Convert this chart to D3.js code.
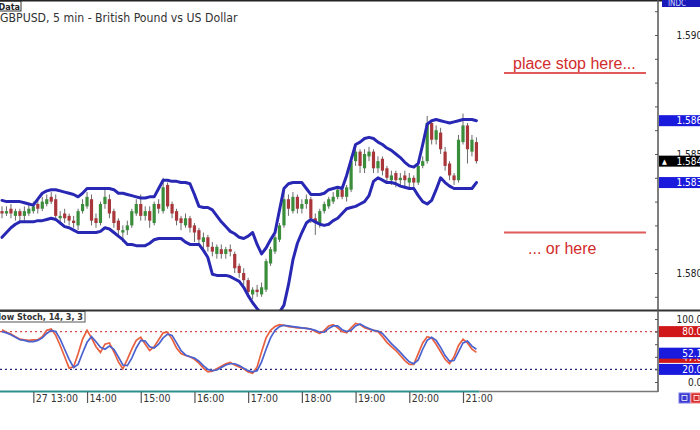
<!DOCTYPE html>
<html>
<head>
<meta charset="utf-8">
<script src="https://cdn.jsdelivr.net/npm/d3@7/dist/d3.min.js"></script>
<style>
  html, body { margin: 0; padding: 0; background: #fff; overflow: hidden; }
  svg { display: block; font-family: "DejaVu Sans Condensed", "DejaVu Sans", sans-serif; }
</style>
</head>
<body>
<svg id="chart" width="700" height="430"></svg>
<script>
// GBPUSD 5-minute candles, 12:25 .. 21:15
const opens = [
  1.5826,1.5825,1.5827,1.5824,1.5826,1.5824,1.5825,1.5826,1.5829,1.5827,
  1.5829,1.5832,1.5831,1.5823,1.5825,1.5824,1.5822,1.5820,1.5826,1.5828,
  1.5831,1.5823,1.5821,1.5829,1.5831,1.5826,1.5822,1.5817,1.5818,1.5820,
  1.5825,1.5829,1.5824,1.5826,1.5821,1.5829,1.5826,1.5837,1.5829,1.5826,
  1.5823,1.5820,1.5823,1.5820,1.5818,1.5813,1.5815,1.5811,1.5808,1.5810,
  1.5808,1.5810,1.5808,1.5803,1.5800,1.5797,1.5791,1.5793,1.5791,1.5793,
  1.5804,1.5809,1.5814,1.5820,1.5831,1.5826,1.5832,1.5827,1.5829,1.5831,
  1.5823,1.5821,1.5826,1.5828,1.5830,1.5832,1.5835,1.5832,1.5835,1.5847,
  1.5851,1.5844,1.5849,1.5851,1.5844,1.5848,1.5844,1.5839,1.5842,1.5839,
  1.5841,1.5838,1.5840,1.5838,1.5845,1.5847,1.5863,1.5856,1.5859,1.5851,
  1.5846,1.5841,1.5839,1.5855,1.5862,1.5851,1.5855
];
const highs = [
  1.5828,1.5828,1.5829,1.5827,1.5827,1.5828,1.5829,1.5830,1.5831,1.5832,
  1.5833,1.5834,1.5833,1.5826,1.5827,1.5825,1.5824,1.5827,1.5831,1.5834,
  1.5833,1.5825,1.5830,1.5835,1.5833,1.5827,1.5823,1.5820,1.5822,1.5827,
  1.5831,1.5833,1.5828,1.5828,1.5830,1.5831,1.5840,1.5838,1.5830,1.5827,
  1.5824,1.5825,1.5824,1.5821,1.5819,1.5817,1.5816,1.5813,1.5812,1.5812,
  1.5811,1.5812,1.5809,1.5804,1.5802,1.5798,1.5794,1.5795,1.5796,1.5806,
  1.5811,1.5816,1.5821,1.5834,1.5833,1.5834,1.5833,1.5831,1.5833,1.5832,
  1.5825,1.5827,1.5830,1.5832,1.5834,1.5836,1.5836,1.5837,1.5849,1.5854,
  1.5852,1.5852,1.5853,1.5852,1.5849,1.5849,1.5845,1.5843,1.5843,1.5842,
  1.5843,1.5842,1.5841,1.5846,1.5849,1.5866,1.5864,1.5862,1.5861,1.5853,
  1.5847,1.5842,1.5858,1.5867,1.5863,1.5858,1.5857
];
const lows = [
  1.5823,1.5824,1.5823,1.5822,1.5821,1.5822,1.5824,1.5825,1.5825,1.5826,
  1.5828,1.5829,1.5822,1.5821,1.5821,1.5820,1.5819,1.5818,1.5825,1.5827,
  1.5820,1.5819,1.5820,1.5827,1.5823,1.5819,1.5815,1.5813,1.5816,1.5819,
  1.5824,1.5822,1.5822,1.5819,1.5820,1.5825,1.5825,1.5827,1.5823,1.5820,
  1.5818,1.5819,1.5817,1.5813,1.5812,1.5810,1.5809,1.5807,1.5806,1.5806,
  1.5806,1.5807,1.5800,1.5798,1.5795,1.5790,1.5789,1.5790,1.5790,1.5792,
  1.5803,1.5808,1.5813,1.5819,1.5824,1.5825,1.5825,1.5825,1.5827,1.5821,
  1.5816,1.5819,1.5825,1.5827,1.5829,1.5831,1.5831,1.5830,1.5834,1.5845,
  1.5842,1.5842,1.5847,1.5842,1.5842,1.5841,1.5838,1.5837,1.5836,1.5837,
  1.5836,1.5836,1.5835,1.5837,1.5844,1.5846,1.5854,1.5854,1.5850,1.5843,
  1.5839,1.5837,1.5838,1.5854,1.5846,1.5849,1.5846
];
const closes = [
  1.5825,1.5826,1.5825,1.5826,1.5824,1.5826,1.5827,1.5828,1.5827,1.5830,
  1.5831,1.5830,1.5824,1.5824,1.5823,1.5822,1.5821,1.5826,1.5829,1.5832,
  1.5822,1.5821,1.5829,1.5832,1.5825,1.5821,1.5818,1.5818,1.5820,1.5826,
  1.5829,1.5824,1.5826,1.5822,1.5829,1.5827,1.5836,1.5828,1.5825,1.5822,
  1.5821,1.5823,1.5819,1.5817,1.5814,1.5815,1.5811,1.5809,1.5811,1.5808,
  1.5810,1.5809,1.5802,1.5800,1.5797,1.5792,1.5793,1.5792,1.5794,1.5805,
  1.5810,1.5815,1.5820,1.5831,1.5827,1.5832,1.5827,1.5829,1.5831,1.5823,
  1.5821,1.5826,1.5829,1.5831,1.5832,1.5835,1.5832,1.5836,1.5847,1.5851,
  1.5845,1.5850,1.5851,1.5844,1.5847,1.5843,1.5840,1.5841,1.5839,1.5840,
  1.5839,1.5840,1.5838,1.5845,1.5847,1.5863,1.5856,1.5860,1.5852,1.5845,
  1.5841,1.5839,1.5856,1.5862,1.5852,1.5856,1.5847
];

// Bollinger Bands (20, 2)
const bandUpper = [
  1.58305,1.5830,1.5830,1.5830,1.5830,1.58295,1.5829,1.58285,1.5831,1.58335,
  1.58345,1.5835,1.5835,1.58345,1.5834,1.58335,1.5833,1.5832,1.58335,1.58355,
  1.58355,1.58355,1.58355,1.58355,1.58355,1.5835,1.58335,1.58335,1.5833,1.58325,
  1.5832,1.58315,1.58315,1.5832,1.5832,1.58355,1.5839,1.5839,1.58385,1.58385,
  1.5838,1.5838,1.58375,1.5833,1.5828,1.58275,1.58275,1.58265,1.5824,1.58215,
  1.58195,1.58175,1.58165,1.5815,1.58145,1.58155,1.5817,1.5812,1.5808,1.58105,
  1.5814,1.5817,1.58265,1.58355,1.58375,1.5838,1.5838,1.5838,1.58355,1.5833,
  1.5833,1.5833,1.58335,1.5835,1.58355,1.5836,1.58355,1.5841,1.58475,1.5854,
  1.5855,1.58565,1.5857,1.58565,1.5855,1.5854,1.58525,1.58515,1.5850,1.58485,
  1.58465,1.5845,1.58445,1.5846,1.5854,1.58625,1.5864,1.58645,1.5864,1.58635,
  1.5863,1.58635,1.5864,1.58645,1.58645,1.58645,1.5864
];
const bandLower = [
  1.5815,1.5817,1.5819,1.58205,1.58215,1.58215,1.58215,1.58215,1.5822,1.5822,
  1.58225,1.5823,1.58225,1.5821,1.58195,1.5819,1.5818,1.5817,1.5817,1.5817,
  1.5817,1.5817,1.58175,1.5819,1.58185,1.5817,1.58155,1.5814,1.5812,1.5812,
  1.58115,1.58115,1.58115,1.58125,1.5814,1.58145,1.58145,1.58145,1.58145,1.58145,
  1.58145,1.5813,1.5812,1.5812,1.5812,1.58095,1.58065,1.57995,1.5799,1.5799,
  1.5799,1.57985,1.57975,1.57965,1.5794,1.57905,1.57875,1.5785,1.5783,1.57815,
  1.5781,1.57815,1.57835,1.57865,1.5795,1.58055,1.58125,1.5817,1.5821,1.58225,
  1.58215,1.58205,1.5820,1.58205,1.5822,1.5823,1.5825,1.5827,1.58275,1.5828,
  1.5829,1.5830,1.58325,1.58385,1.5840,1.5839,1.5838,1.5838,1.58375,1.58365,
  1.5836,1.58355,1.58355,1.58325,1.5830,1.5829,1.58305,1.5835,1.5840,1.5838,
  1.58365,1.58355,1.58355,1.58355,1.58355,1.58355,1.5838
];

// Slow Stochastic (14, 3, 3): main line and signal line
const stochMain = [
  83,79,76,72,68,67,66,67,67,72,
  82,84,74,58,40,22,24,45,68,82,
  70,56,47,60,62,48,32,21,36,52,
  66,71,60,50,56,67,78,79,68,54,
  45,42,40,36,30,22,16,17,21,25,
  29,31,27,24,21,16,14,24,48,70,
  82,88,91,90,88,87,86,86,85,84,
  80,77,82,89,91,86,80,78,86,93,
  91,86,84,82,80,72,63,56,50,42,
  34,28,28,45,62,72,70,60,48,36,
  29,40,58,68,62,52,47
];
const stochSignal = [
  80,78,75,71,67,66,64,64,66,70,
  77,82,80,68,52,36,23,28,46,63,
  72,64,55,52,57,52,40,27,26,38,
  54,66,65,56,54,60,70,76,74,62,
  50,43,40,38,33,26,20,18,19,23,
  27,29,29,26,22,18,16,18,32,52,
  70,82,88,90,89,88,87,86,85,84,
  82,79,79,85,89,89,83,80,82,89,
  92,88,85,82,81,77,69,61,54,47,
  39,32,29,35,52,66,71,66,55,42,
  33,34,48,62,65,57,52.1
];
const stochLevels = [80, 20];

// Session ticks (candle index of each hour) and their labels
const hourIndex = [7, 19, 31, 43, 55, 67, 79, 91, 103];
const hourLabels = ["27 13:00", "14:00", "15:00", "16:00", "17:00", "18:00", "19:00", "20:00", "21:00"];

// Stop-loss levels marked on the chart
const stopLevels = [1.5884, 1.5817];

const svg = d3.select("#chart");
const W = 700, H = 430;
const plotRight = 658;
const mainTop = 2, mainBottom = 310;
const stochTop = 311, stochBottom = 391;

const x = d3.scaleLinear().domain([0, 103]).range([2, 463]);
const y = d3.scaleLinear().domain([1.58, 1.59]).range([273, 35]);
const ys = d3.scaleLinear().domain([0, 100]).range([382, 319]);

const defs = svg.append("defs");
defs.append("clipPath").attr("id", "clipMain")
  .append("rect").attr("x", 0).attr("y", mainTop).attr("width", plotRight).attr("height", mainBottom - mainTop);
defs.append("clipPath").attr("id", "clipStoch")
  .append("rect").attr("x", 0).attr("y", stochTop).attr("width", plotRight).attr("height", stochBottom - stochTop);
defs.append("clipPath").attr("id", "clipAxisMain")
  .append("rect").attr("x", plotRight - 6).attr("y", 0).attr("width", 60).attr("height", mainBottom);

svg.append("rect").attr("width", W).attr("height", H).attr("fill", "#fff");

// ---- price panel ----
const main = svg.append("g").attr("clip-path", "url(#clipMain)");

const candles = main.append("g").selectAll("g").data(closes.map((c, i) => i)).join("g");
candles.append("line")
  .attr("x1", i => x(i)).attr("x2", i => x(i))
  .attr("y1", i => y(highs[i])).attr("y2", i => y(lows[i]))
  .attr("stroke", "#6b6b6b").attr("stroke-width", 1);
candles.append("rect")
  .attr("x", i => x(i) - 1.6)
  .attr("width", 3.2)
  .attr("y", i => y(Math.max(opens[i], closes[i])))
  .attr("height", i => Math.max(1, Math.abs(y(opens[i]) - y(closes[i]))))
  .attr("fill", i => closes[i] >= opens[i] ? "#3a8d3a" : "#a8363a");

const bandLine = d3.line().x((d, i) => x(i)).y(d => y(d));
[bandUpper, bandLower].forEach(b => {
  main.append("path").datum(b)
    .attr("d", bandLine)
    .attr("fill", "none")
    .attr("stroke", "#2828b4")
    .attr("stroke-width", 3)
    .attr("stroke-linejoin", "round")
    .attr("stroke-linecap", "round");
});

// stop annotations
const stopG = svg.append("g");
stopLevels.forEach(v => {
  stopG.append("line")
    .attr("x1", 504).attr("x2", 646)
    .attr("y1", y(v)).attr("y2", y(v))
    .attr("stroke", "#e05a5a").attr("stroke-width", 2);
});
stopG.append("text").attr("x", 513).attr("y", y(stopLevels[0]) - 4)
  .attr("font-family", "Liberation Sans, Arial, sans-serif").attr("font-size", 16)
  .attr("fill", "#d22c2c").text("place stop here...");
stopG.append("text").attr("x", 528).attr("y", y(stopLevels[1]) + 21)
  .attr("font-family", "Liberation Sans, Arial, sans-serif").attr("font-size", 16)
  .attr("fill", "#d22c2c").text("... or here");

// title and data tag
svg.append("rect").attr("x", -10).attr("y", 1).attr("width", 31).attr("height", 10)
  .attr("fill", "#fff").attr("stroke", "#333").attr("stroke-width", 1);
svg.append("text").attr("x", 20).attr("y", 9.5).attr("text-anchor", "end")
  .attr("font-size", 9).attr("font-weight", "bold").attr("fill", "#222").text("Data");
svg.append("text").attr("x", 0).attr("y", 22)
  .attr("font-size", 12.2).attr("fill", "#333")
  .text("GBPUSD, 5 min - British Pound vs US Dollar");

// ---- stochastic panel ----
const stoch = svg.append("g").attr("clip-path", "url(#clipStoch)");
stoch.selectAll("line.level").data(stochLevels).join("line")
  .attr("class", "level")
  .attr("x1", 0).attr("x2", plotRight)
  .attr("y1", d => ys(d)).attr("y2", d => ys(d))
  .attr("stroke", d => d > 50 ? "#d84848" : "#26267e")
  .attr("stroke-width", 1.3)
  .attr("stroke-dasharray", "2,3");

const stLine = d3.line().x((d, i) => x(i)).y(d => ys(d));
stoch.append("path").datum(stochMain).attr("d", stLine)
  .attr("fill", "none").attr("stroke", "#e8603e").attr("stroke-width", 1.7);
stoch.append("path").datum(stochSignal).attr("d", stLine)
  .attr("fill", "none").attr("stroke", "#4a62cf").attr("stroke-width", 1.7);

svg.append("rect").attr("x", -10).attr("y", 311.5).attr("width", 95).attr("height", 10.5)
  .attr("fill", "#fff").attr("stroke", "#555").attr("stroke-width", 1);
svg.append("text").attr("x", 83).attr("y", 320).attr("text-anchor", "end")
  .attr("font-size", 9).attr("font-weight", "bold").attr("fill", "#333").text("Slow Stoch, 14, 3, 3");

// ---- frame ----
svg.append("line").attr("x1", 0).attr("x2", W).attr("y1", 0.75).attr("y2", 0.75)
  .attr("stroke", "#222").attr("stroke-width", 1.5);
svg.append("line").attr("x1", 0).attr("x2", W).attr("y1", 310.5).attr("y2", 310.5)
  .attr("stroke", "#333").attr("stroke-width", 2);
svg.append("line").attr("x1", plotRight).attr("x2", plotRight).attr("y1", 0).attr("y2", 392)
  .attr("stroke", "#555").attr("stroke-width", 1.5);
svg.append("line").attr("x1", 0).attr("x2", x(closes.length - 1) + 3).attr("y1", 391.5).attr("y2", 391.5)
  .attr("stroke", "#2f8f8f").attr("stroke-width", 2);
svg.append("line").attr("x1", x(closes.length - 1) + 3).attr("x2", plotRight).attr("y1", 391.5).attr("y2", 391.5)
  .attr("stroke", "#777").attr("stroke-width", 1.5);

// ---- price axis ----
const priceTicks = d3.range(1575, 1596).map(v => v / 1000);
const priceAxis = d3.axisRight(y)
  .tickValues(priceTicks)
  .tickSizeInner(-3).tickSizeOuter(0)
  .tickFormat(d => Math.round(d * 10000) % 50 === 0 ? d3.format(".4f")(d) : "");
const paWrap = svg.append("g").attr("clip-path", "url(#clipAxisMain)");
const pa = paWrap.append("g").attr("transform", `translate(${plotRight},0)`).call(priceAxis);
pa.select(".domain").remove();
pa.selectAll("line").attr("stroke", "#555");
pa.selectAll("text").attr("x", 50).attr("text-anchor", "end")
  .attr("font-size", 10).attr("fill", "#222").attr("font-family", "DejaVu Sans Condensed, DejaVu Sans, sans-serif");

// ---- stochastic axis ----
const stochAxis = d3.axisRight(ys)
  .tickValues([0, 20, 40, 60, 80, 100])
  .tickSizeInner(-3).tickSizeOuter(0)
  .tickFormat(d => (d === 0 || d === 100) ? d3.format(".2f")(d) : "");
const sa = svg.append("g").attr("transform", `translate(${plotRight},0)`).call(stochAxis);
sa.select(".domain").remove();
sa.selectAll("line").attr("stroke", "#555");
sa.selectAll("text").attr("x", 50).attr("text-anchor", "end")
  .attr("font-size", 10).attr("fill", "#222").attr("font-family", "DejaVu Sans Condensed, DejaVu Sans, sans-serif");

// value tags on the right scale
function tag(cy, text, bg, fg, marker) {
  const g = svg.append("g");
  g.append("rect").attr("x", 659).attr("y", cy - 5.5).attr("width", 45).attr("height", 11).attr("fill", bg);
  g.append("text").attr("x", 708).attr("y", cy + 3.8).attr("text-anchor", "end")
    .attr("font-size", 10).attr("fill", fg).text(text);
  if (marker) {
    g.append("text").attr("x", 662).attr("y", cy + 3).attr("font-size", 7).attr("fill", fg).text("▲");
  }
}
const fmt4 = d3.format(".4f"), fmt2 = d3.format(".2f");
const last = closes.length - 1;
tag(y(bandUpper[last]), fmt4(bandUpper[last]), "#1a1adc", "#fff");
tag(y(closes[last]), fmt4(closes[last]), "#000", "#fff", true);
tag(y(bandLower[last]), fmt4(bandLower[last]), "#1a1adc", "#fff");
tag(ys(stochLevels[0]), fmt2(stochLevels[0]), "#d01818", "#fff");
tag(ys(stochMain[last]) + 5, fmt2(stochMain[last]), "#d01818", "#fff");
tag(ys(stochSignal[last]) + 4, fmt2(stochSignal[last]), "#1a1adc", "#fff");
tag(ys(stochLevels[1]), fmt2(stochLevels[1]), "#1a1adc", "#fff");

// indicator tag at the top of the scale
svg.append("rect").attr("x", 662).attr("y", -2).attr("width", 40).attr("height", 9).attr("fill", "#1a1ab8");
svg.append("text").attr("x", 668).attr("y", 6).attr("font-size", 8).attr("fill", "#cfd6ff").text("INDC");

// small buttons under the scale
svg.append("rect").attr("x", 679).attr("y", 393).attr("width", 11).attr("height", 10).attr("fill", "#3a3ad0").attr("stroke", "#7a7ae8");
svg.append("rect").attr("x", 682).attr("y", 395.5).attr("width", 5).attr("height", 5).attr("fill", "none").attr("stroke", "#fff").attr("stroke-width", 0.8);
svg.append("rect").attr("x", 691).attr("y", 393).attr("width", 11).attr("height", 10).attr("fill", "#d83030").attr("stroke", "#f08080");
svg.append("rect").attr("x", 694).attr("y", 395.5).attr("width", 5).attr("height", 5).attr("fill", "none").attr("stroke", "#fff").attr("stroke-width", 0.8);

// ---- time axis ----
const timeAxis = d3.axisBottom(x)
  .tickValues(hourIndex)
  .tickSizeInner(11).tickSizeOuter(0)
  .tickFormat((d, i) => hourLabels[i]);
const ta = svg.append("g").attr("transform", "translate(0,392)").call(timeAxis);
ta.select(".domain").remove();
ta.selectAll("line").attr("stroke", "#555").attr("stroke-width", 1.2);
ta.selectAll("text").attr("x", 2).attr("y", 3).attr("dy", "0.71em").attr("text-anchor", "start")
  .attr("font-size", 10.5).attr("fill", "#333")
  .attr("font-family", "DejaVu Sans Condensed, DejaVu Sans, sans-serif");
</script>
</body>
</html>
